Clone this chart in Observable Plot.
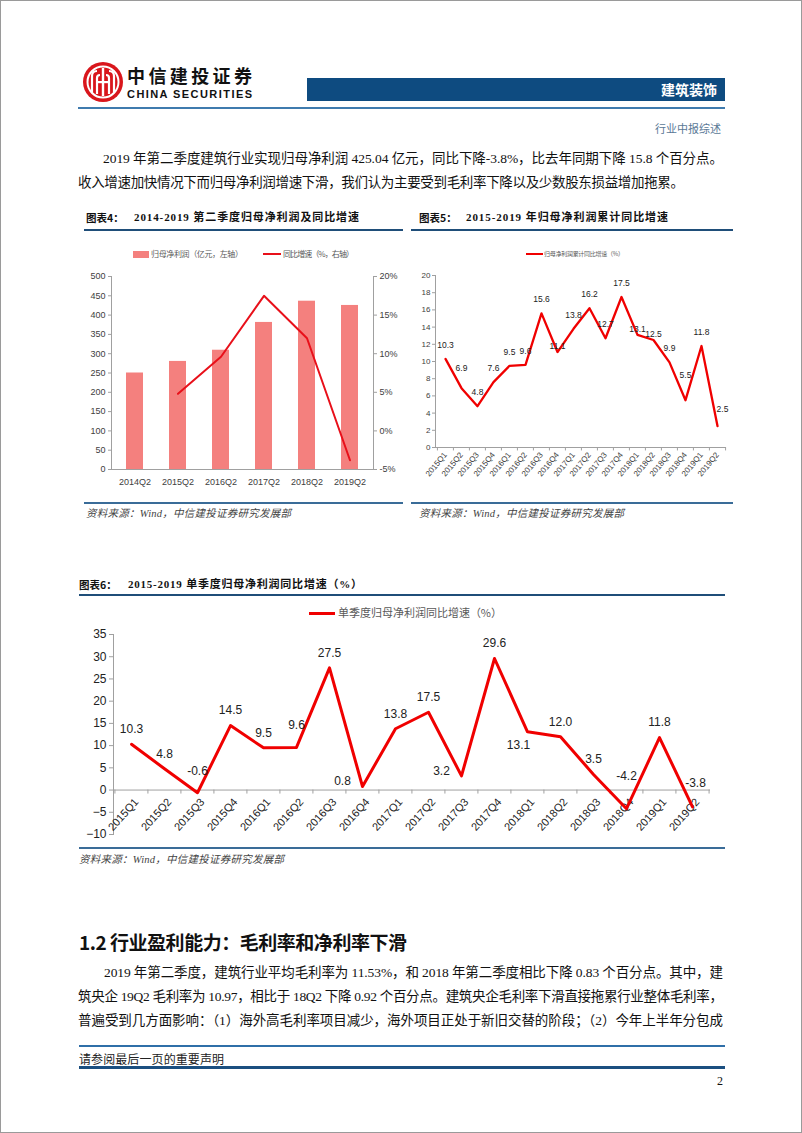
<!DOCTYPE html>
<html><head><meta charset="utf-8">
<script src="https://cdn.jsdelivr.net/npm/d3@7"></script>
<script src="https://cdn.jsdelivr.net/npm/@observablehq/plot@0.6"></script>
<style>
html,body{margin:0;padding:0;background:#fff;}
#page{position:relative;width:802px;height:1133px;box-sizing:border-box;border:1px solid #9a9a9a;overflow:hidden;background:#fff;font-family:"Liberation Serif","Noto Sans CJK SC",serif;color:#111;}
.t{position:absolute;white-space:pre;}
.r{position:absolute;}
.chart{position:absolute;}
</style></head><body><div id="page"></div>
<script>
// ---------- data ----------
const q2Categories = ["2014Q2","2015Q2","2016Q2","2017Q2","2018Q2","2019Q2"];
const q2Profit = [250, 280, 309, 381, 436, 425];
const q2Growth = [null, 4.8, 9.6, 17.5, 12.0, -3.8];

const cumCategories = ["2015Q1","2015Q2","2015Q3","2015Q4","2016Q1","2016Q2","2016Q3","2016Q4","2017Q1","2017Q2","2017Q3","2017Q4","2018Q1","2018Q2","2018Q3","2018Q4","2019Q1","2019Q2"];
const cumGrowth = [10.3, 6.9, 4.8, 7.6, 9.5, 9.6, 15.6, 11.1, 13.8, 16.2, 12.7, 17.5, 13.1, 12.5, 9.9, 5.5, 11.8, 2.5];
const cumLabelPos = ["above","high","above","above","above","above","above","low","above","above","above","above","low","low","above","higher","above","highRight"];

const quarterCategories = cumCategories.slice();
const quarterGrowth = [10.3, 4.8, -0.6, 14.5, 9.5, 9.6, 27.5, 0.8, 13.8, 17.5, 3.2, 29.6, 13.1, 12.0, 3.5, -4.2, 11.8, -3.8];
const quarterLabelPos = ["above","above","high","above","above","high","above","left","above","above","left","above","below","above","above","higher","above","highRight"];

const yTicks4Left = [0,50,100,150,200,250,300,350,400,450,500];
const yTicks4Right = [-5,0,5,10,15,20];
const yTicks5 = [0,2,4,6,8,10,12,14,16,18,20];
const yTicks6 = [-10,-5,0,5,10,15,20,25,30,35];

// ---------- helpers ----------
const page = document.getElementById("page");
const CJK_SANS = '"Noto Sans CJK SC", sans-serif';
const SERIF = '"Liberation Serif","Noto Sans CJK SC",serif';
function addText(str, o) {
  const d = document.createElement("div");
  d.className = "t";
  d.textContent = str;
  const size = o.size || 13.5;
  const lh = o.lh || size * 1.25;
  d.style.fontSize = size + "px";
  d.style.lineHeight = lh + "px";
  d.style.top = (o.cy - lh / 2) + "px";
  d.style.fontWeight = o.weight || "normal";
  d.style.fontStyle = o.style || "normal";
  d.style.color = o.color || "#111";
  d.style.fontFamily = o.family || SERIF;
  d.style.left = "0px";
  page.appendChild(d);
  if (o.fit) {
    const w = d.getBoundingClientRect().width;
    const n = [...str].length;
    d.style.letterSpacing = ((o.fit - w) / (n - 1)) + "px";
  }
  const w2 = d.getBoundingClientRect().width - (o.fit ? parseFloat(d.style.letterSpacing) : 0);
  d.style.left = (o.anchor === "end" ? o.x - w2 : o.x) + "px";
  return d;
}
function addRule(x1, x2, y, h, color) {
  const d = document.createElement("div");
  d.className = "r";
  d.style.left = x1 + "px"; d.style.width = (x2 - x1) + "px";
  d.style.top = (y - h / 2) + "px"; d.style.height = h + "px";
  d.style.background = color;
  page.appendChild(d);
}
function addBox(x, y, w, h, color) {
  const d = document.createElement("div");
  d.className = "r";
  d.style.left = x + "px"; d.style.top = y + "px";
  d.style.width = w + "px"; d.style.height = h + "px";
  d.style.background = color;
  page.appendChild(d);
}
function addChart(svg, x, y, w, h) {
  const d = document.createElement("div");
  d.className = "chart";
  d.style.left = x + "px"; d.style.top = y + "px";
  d.style.width = w + "px"; d.style.height = h + "px";
  d.appendChild(svg);
  page.appendChild(d);
}

// ---------- header ----------
const logo = document.createElementNS("http://www.w3.org/2000/svg", "svg");
logo.setAttribute("width", 44); logo.setAttribute("height", 44);
logo.style.position = "absolute"; logo.style.left = "80px"; logo.style.top = "59px";
logo.innerHTML = `
<circle cx="22" cy="22" r="20" fill="#D9161C"/>
<circle cx="22" cy="22" r="15.5" fill="none" stroke="#fff" stroke-width="2"/>
<path d="M11 33 V16 Q11 11 16 11 M33 33 V16 Q33 11 28 11" fill="none" stroke="#fff" stroke-width="2.2"/>
<path d="M16 34 V18 Q16 15 19 15 M28 34 V18 Q28 15 25 15" fill="none" stroke="#fff" stroke-width="2.2"/>
<rect x="20.8" y="8" width="2.4" height="28" fill="#fff"/>
<rect x="15" y="21" width="14" height="2.2" fill="#fff"/>`;
page.appendChild(logo);
addText("中信建投证券", {x: 126, cy: 73.5, size: 18, lh: 18, weight: "bold", family: CJK_SANS, color: "#111", fit: 125});
addText("CHINA SECURITIES", {x: 126, cy: 93, size: 11, lh: 11, weight: "bold", family: '"Liberation Sans",sans-serif', color: "#111", fit: 125});
addBox(306, 77, 418, 23, "#0E4B80");
addText("建筑装饰", {x: 716, cy: 88.5, size: 14, weight: "bold", family: CJK_SANS, color: "#fff", anchor: "end"});
addRule(77, 724, 107, 1.6, "#3F7BAE");
addText("行业中报综述", {x: 720, cy: 128, size: 11, color: "#5A7896", family: CJK_SANS, anchor: "end"});

// ---------- paragraph 1 ----------
addText("2019 年第二季度建筑行业实现归母净利润 425.04 亿元，同比下降-3.8%，比去年同期下降 15.8 个百分点。", {x: 102, cy: 158, size: 13.5, fit: 620});
addText("收入增速加快情况下而归母净利润增速下滑，我们认为主要受到毛利率下降以及少数股东损益增加拖累。", {x: 77, cy: 182, size: 13.5, fit: 606});

// ---------- figure titles ----------
addText("图表4：", {x: 85, cy: 217, size: 10.5, weight: "bold", family: CJK_SANS});
addText("2014-2019 第二季度归母净利润及同比增速", {x: 133, cy: 217, size: 11, weight: "bold", fit: 225});
addRule(83, 402, 229, 2, "#1F4E79");
addText("图表5：", {x: 418, cy: 217, size: 10.5, weight: "bold", family: CJK_SANS});
addText("2015-2019 年归母净利润累计同比增速", {x: 465, cy: 217, size: 11, weight: "bold", fit: 202});
addRule(410, 732, 229, 2, "#1F4E79");

// ---------- chart 4 ----------
const q2Rows = q2Categories.map((c, i) => ({cat: c, profit: q2Profit[i], growth: q2Growth[i]}));
const pctToLeft = v => (v + 5) * 20;
const chart4 = Plot.plot({
  width: 330, height: 240,
  marginLeft: 40, marginRight: 28, marginTop: 13, marginBottom: 34,
  x: {domain: q2Categories, paddingInner: 0.61, paddingOuter: 0.305, label: null},
  y: {domain: [0, 500], label: null},
  style: {fontFamily: '"Liberation Sans",sans-serif', fontSize: "9px", color: "#404040", background: "transparent"},
  marks: [
    Plot.barY(q2Rows, {x: "cat", y: "profit", fill: "#F4807E"}),
    Plot.lineY(q2Rows.filter(d => d.growth != null), {x: "cat", y: d => pctToLeft(d.growth), stroke: "#E8101A", strokeWidth: 2}),
    Plot.ruleY([0], {stroke: "#A0A0A0"}),
    Plot.frame({anchor: "left", stroke: "#A0A0A0"}),
    Plot.frame({anchor: "right", stroke: "#A0A0A0"}),
    Plot.axisY({anchor: "left", ticks: yTicks4Left, tickSize: 3, tickPadding: 3, stroke: "#A0A0A0", label: null}),
    Plot.axisY({anchor: "right", ticks: yTicks4Right.map(pctToLeft), tickFormat: v => (v / 20 - 5) + "%", tickSize: 3, tickPadding: 3, stroke: "#A0A0A0", label: null}),
    Plot.axisX({tickSize: 0, tickPadding: 9, label: null})
  ]
});
addChart(chart4, 70, 262, 330, 240);
// legend 4
addBox(132, 249.5, 16, 7, "#F4807E");
addText("归母净利润（亿元，左轴）", {x: 150, cy: 253, size: 8, color: "#595959", family: CJK_SANS, fit: 92});
addRule(262, 280, 253, 2, "#E8101A");
addText("同比增速（%，右轴）", {x: 282, cy: 253, size: 8, color: "#595959", family: CJK_SANS, fit: 71});

// ---------- chart 5 ----------
const cumRows = cumCategories.map((c, i) => ({cat: c, v: cumGrowth[i], pos: cumLabelPos[i]}));
const offsets5 = {above: [0, -14], high: [0, -20], higher: [0, -25], low: [0, -6], highRight: [5, -17]};
const step5 = 291 / 18;
const chart5 = Plot.plot({
  width: 330, height: 240,
  marginLeft: 29, marginRight: 10, marginTop: 12, marginBottom: 56,
  x: {domain: cumCategories, type: "point", padding: 0.5, label: null},
  y: {domain: [0, 20], label: null},
  style: {fontFamily: '"Liberation Sans",sans-serif', fontSize: "8px", color: "#404040", background: "transparent"},
  marks: [
    Plot.ruleY([0], {stroke: "#A0A0A0"}),
    Plot.frame({anchor: "left", stroke: "#A0A0A0"}),
    Plot.ruleX(cumCategories, {x: d => d, y1: 0, y2: -0.4, dx: -step5 / 2, stroke: "#A0A0A0"}),
    Plot.ruleX(cumCategories.slice(-1), {x: d => d, y1: 0, y2: -0.4, dx: step5 / 2, stroke: "#A0A0A0"}),
    Plot.axisY({ticks: yTicks5, tickSize: 3, tickPadding: 2, stroke: "#A0A0A0", label: null}),
    Plot.axisX({tickSize: 0, tickPadding: 6, tickRotate: -50, fontSize: 8, label: null}),
    Plot.lineY(cumRows, {x: "cat", y: "v", stroke: "#F00000", strokeWidth: 2.3}),
    ...Object.entries(offsets5).map(([k, [dx, dy]]) =>
      Plot.text(cumRows.filter(r => r.pos === k), {x: "cat", y: "v", text: r => r.v.toFixed(1), dx, dy, fill: "#222", fontSize: 8.5}))
  ]
});
addChart(chart5, 405, 262, 330, 240);
addRule(525, 542, 252.5, 2, "#F00000");
addText("归母净利润累计同比增速（%）", {x: 543, cy: 252.5, size: 6, color: "#595959", family: CJK_SANS, fit: 80});

// sources 4/5
addRule(83, 402, 502, 2, "#3A6C98");
addRule(410, 732, 502, 2, "#3A6C98");
addText("资料来源：Wind，中信建投证券研究发展部", {x: 85, cy: 513, size: 10.5, style: "italic", color: "#444", fit: 205});
addText("资料来源：Wind，中信建投证券研究发展部", {x: 418, cy: 513, size: 10.5, style: "italic", color: "#444", fit: 205});

// ---------- chart 6 ----------
addText("图表6：", {x: 78, cy: 584, size: 10.5, weight: "bold", family: CJK_SANS});
addText("2015-2019 单季度归母净利润同比增速（%）", {x: 127, cy: 584, size: 11, weight: "bold", fit: 234});
addRule(78, 724, 594, 2, "#1F4E79");

const qRows = quarterCategories.map((c, i) => ({cat: c, v: quarterGrowth[i], pos: quarterLabelPos[i]}));
const offsets6 = {above: [0, -15], high: [0, -22], higher: [0, -33], left: [-20, -5], below: [-9, 13], highRight: [3, -24]};
const step6 = 597 / 18;
const chart6 = Plot.plot({
  width: 660, height: 222,
  marginLeft: 50, marginRight: 13, marginTop: 13, marginBottom: 9,
  x: {domain: quarterCategories, type: "point", padding: 0.5, axis: null},
  y: {domain: [-10, 35], label: null},
  style: {fontFamily: '"Liberation Sans",sans-serif', fontSize: "12px", color: "#222", background: "transparent"},
  marks: [
    Plot.ruleY([0], {stroke: "#A0A0A0"}),
    Plot.frame({anchor: "left", stroke: "#A0A0A0"}),
    Plot.ruleX(quarterCategories, {x: d => d, y1: 0, y2: -0.9, dx: -step6 / 2, stroke: "#A0A0A0"}),
    Plot.ruleX(quarterCategories.slice(-1), {x: d => d, y1: 0, y2: -0.9, dx: step6 / 2, stroke: "#A0A0A0"}),
    Plot.axisY({ticks: yTicks6, tickSize: 4, tickPadding: 3, stroke: "#A0A0A0", label: null}),
    Plot.text(quarterCategories, {x: d => d, y: () => 0, text: d => d, rotate: -48, textAnchor: "end", dx: 5, dy: 10, fill: "#222", fontSize: 11}),
    Plot.lineY(qRows, {x: "cat", y: "v", stroke: "#F00000", strokeWidth: 3}),
    ...Object.entries(offsets6).map(([k, [dx, dy]]) =>
      Plot.text(qRows.filter(r => r.pos === k), {x: "cat", y: "v", text: r => r.v.toFixed(1), dx, dy, fill: "#222", fontSize: 12}))
  ]
});
addChart(chart6, 62, 620, 660, 222);
addRule(308, 334, 612, 3, "#F00000");
addText("单季度归母净利润同比增速（%）", {x: 337, cy: 612, size: 11, color: "#595959", family: CJK_SANS, fit: 164});

addRule(78, 724, 847, 2, "#3A6C98");
addText("资料来源：Wind，中信建投证券研究发展部", {x: 78, cy: 859, size: 10.5, style: "italic", color: "#444", fit: 205});

// ---------- section 1.2 ----------
addText("1.2 行业盈利能力：毛利率和净利率下滑", {x: 78, cy: 941, size: 19, weight: "bold", family: CJK_SANS, fit: 328});
addText("2019 年第二季度，建筑行业平均毛利率为 11.53%，和 2018 年第二季度相比下降 0.83 个百分点。其中，建", {x: 103, cy: 972, size: 13.5, fit: 619});
addText("筑央企 19Q2 毛利率为 10.97，相比于 18Q2 下降 0.92 个百分点。建筑央企毛利率下滑直接拖累行业整体毛利率，", {x: 77, cy: 996, size: 13.5, fit: 645});
addText("普遍受到几方面影响：（1）海外高毛利率项目减少，海外项目正处于新旧交替的阶段；（2）今年上半年分包成", {x: 77, cy: 1020, size: 13.5, fit: 645});

// ---------- footer ----------
addRule(78, 724, 1045, 2, "#2F6FA8");
addText("请参阅最后一页的重要声明", {x: 78, cy: 1057, size: 12, color: "#222", family: CJK_SANS, fit: 145});
addRule(78, 724, 1066, 3, "#1B4F80");
addText("2", {x: 722, cy: 1080, size: 12, anchor: "end"});
</script></body></html>
